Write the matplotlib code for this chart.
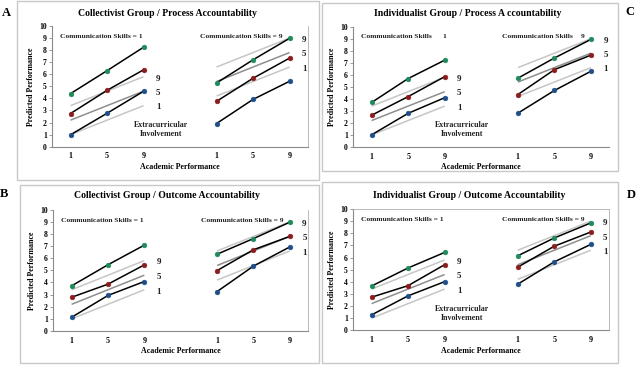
import matplotlib
matplotlib.use("Agg")
import matplotlib.pyplot as plt
from matplotlib.patches import Rectangle

# ---------------- data ----------------
academic_levels = ["1", "5", "9"]
extracurricular_levels = ["9", "5", "1"]

# reference (gray) lines: value at academic=1 and academic=9
ref_cs1_ei9 = [3.4, 5.8]
ref_cs1_ei5 = [2.2, 4.6]
ref_cs1_ei1 = [1.0, 3.4]
ref_cs9_ei9 = [6.6, 9.0]
ref_cs9_ei5 = [5.4, 7.8]
ref_cs9_ei1 = [4.2, 6.6]

# Panel A: Collectivist / Process
A_cs1_ei9 = [4.40, 6.30, 8.24]
A_cs1_ei5 = [2.75, 4.67, 6.37]
A_cs1_ei1 = [0.99, 2.77, 4.59]
A_cs9_ei9 = [5.28, 7.20, 8.98]
A_cs9_ei5 = [3.76, 5.67, 7.34]
A_cs9_ei1 = [1.92, 3.92, 5.42]

# Panel B: Collectivist / Outcome
B_cs1_ei9 = [3.72, 5.46, 7.08]
B_cs1_ei5 = [2.78, 3.86, 5.45]
B_cs1_ei1 = [1.13, 2.93, 4.08]
B_cs9_ei9 = [6.33, 7.62, 8.97]
B_cs9_ei5 = [4.98, 6.70, 7.80]
B_cs9_ei1 = [3.25, 5.35, 6.93]

# Panel C: Individualist / Process
C_cs1_ei9 = [3.70, 5.69, 7.22]
C_cs1_ei5 = [2.64, 4.19, 5.85]
C_cs1_ei1 = [1.01, 2.80, 4.10]
C_cs9_ei9 = [5.72, 7.40, 8.95]
C_cs9_ei5 = [4.36, 6.43, 7.64]
C_cs9_ei1 = [2.81, 4.70, 6.30]

# Panel D: Individualist / Outcome
D_cs1_ei9 = [3.65, 5.14, 6.42]
D_cs1_ei5 = [2.73, 3.68, 5.41]
D_cs1_ei1 = [1.27, 2.84, 4.01]
D_cs9_ei9 = [6.14, 7.61, 8.85]
D_cs9_ei5 = [5.20, 6.93, 8.10]
D_cs9_ei1 = [3.80, 5.64, 7.08]

# ---------------- styling ----------------
W, H = 641, 374
FONT = "Liberation Serif"
plt.rcParams["font.family"] = [FONT, "DejaVu Serif"]
plt.rcParams["font.weight"] = "bold"

fig = plt.figure(figsize=(W / 100, H / 100), dpi=100)
fig.patch.set_facecolor("white")

GREEN = "#1f8a5c"
RED = "#8c1d1d"
BLUE = "#1f4f8a"
LIGHT = "#c6c6c6"
MID = "#8e8e8e"
AXC = "#8a8a8a"

low_pos = [1, 2, 3]
high_pos = [5, 6, 7]


def px_axes(left, top, right, bottom):
    return fig.add_axes([left / W, 1 - bottom / H, (right - left) / W, (bottom - top) / H])


def px_box(x0, y0, x1, y1):
    r = Rectangle((x0 / W, 1 - y1 / H), (x1 - x0) / W, (y1 - y0) / H,
                  transform=fig.transFigure, fill=False, edgecolor="#c8c8c8", lw=1.0)
    fig.add_artist(r)


def ftext(x, y, s, size, **kw):
    fig.text(x / W, 1 - y / H, s, fontsize=size, fontweight="bold", ha=kw.pop("ha", "center"),
             va=kw.pop("va", "center"), **kw)


def draw_panel(ax, cs1, cs9, cs1_text, cs9_parts, extra_label, right_box=False, top_box=False):
    # reference gray lines
    for pos, refs in ((low_pos, (ref_cs1_ei9, ref_cs1_ei5, ref_cs1_ei1)),
                      (high_pos, (ref_cs9_ei9, ref_cs9_ei5, ref_cs9_ei1))):
        for ref, col in zip(refs, (LIGHT, MID, LIGHT)):
            ax.plot([pos[0], pos[-1]], ref, color=col, lw=1.1, zorder=2, solid_capstyle="butt")
    # black data lines with coloured markers
    for pos, series in ((low_pos, cs1), (high_pos, cs9)):
        for vals, col in zip(series, (GREEN, RED, BLUE)):
            ax.plot(pos, vals, color="black", lw=1.1, zorder=3,
                    marker="o", ms=3.4, mfc=col, mec=col, mew=0.4)
    # level labels 9/5/1
    for pos, refs in ((low_pos, (ref_cs1_ei9, ref_cs1_ei5, ref_cs1_ei1)),
                      (high_pos, (ref_cs9_ei9, ref_cs9_ei5, ref_cs9_ei1))):
        for lab, ref in zip(extracurricular_levels, refs):
            ax.text(pos[-1] + 0.34, ref[1] - 0.15, lab, fontsize=6.5, fontweight="bold",
                    ha="left", va="center", color="#222222")
    # communication skill captions
    ax.text(0.72, 9.15, cs1_text, fontsize=5.4, fontweight="bold", ha="left", va="center", color="#222222")
    if isinstance(cs9_parts, tuple):
        ax.text(4.56, 9.15, cs9_parts[0], fontsize=5.4, fontweight="bold", ha="left", va="center", color="#222222")
        ax.text(6.77, 9.15, cs9_parts[1], fontsize=5.4, fontweight="bold", ha="center", va="center", color="#222222")
    else:
        ax.text(4.56, 9.15, cs9_parts, fontsize=5.4, fontweight="bold", ha="left", va="center", color="#222222")
    if extra_label:
        ax.text(3.47, 1.42, "Extracurricular\nInvolvement", fontsize=5.7, fontweight="bold",
                ha="center", va="center", linespacing=1.15, color="#222222")

    ax.set_xlim(0.5, 7.5)
    ax.set_ylim(0, 10)
    ax.set_xticks(low_pos + high_pos)
    ax.set_xticklabels(academic_levels * 2)
    ax.set_yticks(range(0, 11))
    ax.tick_params(axis="x", length=0, labelsize=5.8, pad=4)
    ax.tick_params(axis="y", length=2, width=0.6, color=AXC, labelsize=5.5, pad=2)
    for lab in ax.get_xticklabels() + ax.get_yticklabels():
        lab.set_fontweight("bold")
    ax.spines["left"].set_color(AXC)
    ax.spines["bottom"].set_color(AXC)
    ax.spines["left"].set_linewidth(0.8)
    ax.spines["bottom"].set_linewidth(0.8)
    ax.spines["right"].set_visible(right_box)
    ax.spines["top"].set_visible(top_box)
    ax.spines["right"].set_color("#b0b0b0")
    ax.spines["top"].set_color("#b0b0b0")
    ax.spines["right"].set_linewidth(0.6)
    ax.spines["top"].set_linewidth(0.6)
    ax.set_xlabel("Academic Performance", fontsize=5.7, fontweight="bold", labelpad=2)
    ax.set_ylabel("Predicted Performance", fontsize=5.7, fontweight="bold", labelpad=3)
    ax.patch.set_alpha(0)


# panel frames
px_box(17, 1, 319, 180)
px_box(322, 3, 618, 171)
px_box(20, 185, 319, 363)
px_box(322, 182, 618, 363)

axA = px_axes(52.3, 26.0, 307.8, 146.7)
draw_panel(axA, (A_cs1_ei9, A_cs1_ei5, A_cs1_ei1), (A_cs9_ei9, A_cs9_ei5, A_cs9_ei1),
           "Communication Skills = 1", "Communication Skills = 9", True, right_box=True)

axC = px_axes(353.3, 26.7, 609.3, 147.0)
draw_panel(axC, (C_cs1_ei9, C_cs1_ei5, C_cs1_ei1), (C_cs9_ei9, C_cs9_ei5, C_cs9_ei1),
           "Communication Skills", ("Communication Skills", "9"), True)
axC.text(2.98, 9.15, "1", fontsize=5.4, fontweight="bold", ha="center", va="center", color="#222222")

axB = px_axes(53.4, 209.7, 308.0, 331.0)
draw_panel(axB, (B_cs1_ei9, B_cs1_ei5, B_cs1_ei1), (B_cs9_ei9, B_cs9_ei5, B_cs9_ei1),
           "Communication Skills = 1", "Communication Skills = 9", False, right_box=True)

axD = px_axes(353.3, 209.0, 609.0, 330.3)
draw_panel(axD, (D_cs1_ei9, D_cs1_ei5, D_cs1_ei1), (D_cs9_ei9, D_cs9_ei5, D_cs9_ei1),
           "Communication Skills = 1", "Communication Skills = 9", True, right_box=True, top_box=True)

# titles
ftext(167, 13, "Collectivist Group / Process Accountability", 7.0)
ftext(468, 13, "Individualist Group / Process A ccountability", 7.0)
ftext(167, 196, "Collectivist Group / Outcome Accountability", 7.0)
ftext(469, 195, "Individualist Group / Outcome Accountability", 7.0)

# panel letters
ftext(6, 13, "A", 9)
ftext(4, 194, "B", 9)
ftext(630, 12, "C", 9)
ftext(631, 195, "D", 9)

fig.savefig("out.png", dpi=100)
